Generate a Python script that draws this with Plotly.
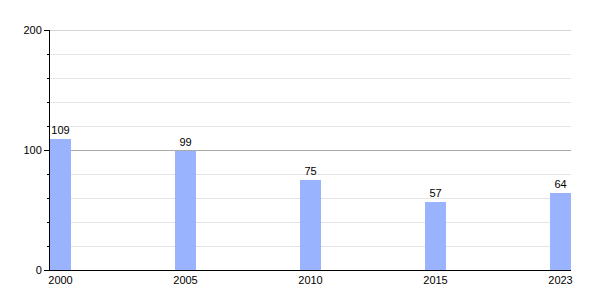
import plotly.graph_objects as go

years = ["2000", "2005", "2010", "2015", "2023"]
values = [109, 99, 75, 57, 64]
y_max = 200

bar_w = 0.168
xpos = [i + bar_w / 2 for i in range(len(years))]

fig = go.Figure(go.Bar(
    x=xpos, y=values, width=bar_w,
    marker=dict(color="#99b3ff", line=dict(width=0)),
    text=[str(v) for v in values], textposition="outside",
    textfont=dict(size=11, color="#000", family="Liberation Sans, Arial, sans-serif"),
    cliponaxis=False,
))

fig.update_layout(
    width=600, height=300,
    margin=dict(l=50, r=29, t=30, b=30),
    plot_bgcolor="white", paper_bgcolor="white",
    font=dict(family="Liberation Sans, Arial, sans-serif", size=11, color="#000"),
    showlegend=False,
    bargap=0,
)
# top gridline at the range edge (plotly omits gridlines on the edge)
fig.add_shape(type="line", xref="paper", yref="y", x0=0, x1=1, y0=y_max, y1=y_max,
              line=dict(color="#aaaaaa", width=1), layer="below")
fig.update_xaxes(
    range=[0, len(years) - 1 + bar_w],
    tickvals=xpos, ticktext=years,
    showgrid=False, zeroline=False,
    showline=True, linecolor="black", linewidth=1,
    ticks="", tickfont=dict(size=11),
)
fig.update_yaxes(
    range=[0, y_max],
    tickvals=[0, 100, 200],
    showgrid=True, gridcolor="#aaaaaa", gridwidth=1,
    zeroline=False,
    showline=True, linecolor="black", linewidth=1,
    ticks="outside", ticklen=5, tickcolor="black", tickwidth=1,
    minor=dict(dtick=20, tick0=0, ticks="outside", ticklen=2, tickcolor="black",
               showgrid=True, gridcolor="#e4e4e4", gridwidth=1),
    tickfont=dict(size=11),
)

fig.write_html("out.html")
